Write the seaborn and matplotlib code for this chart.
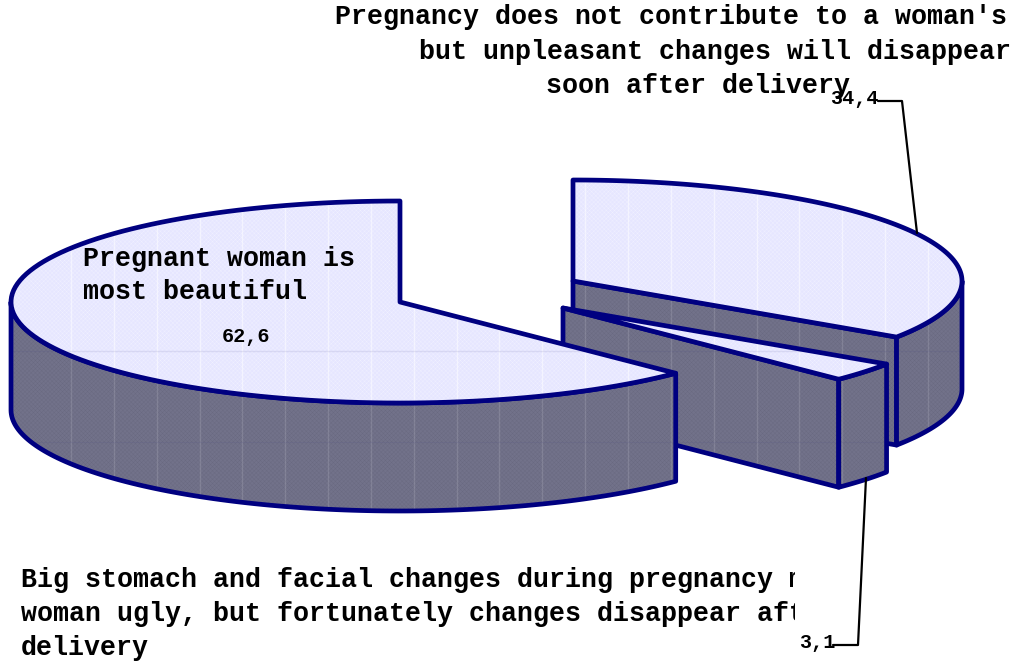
import numpy as np
import seaborn as sns
import matplotlib.pyplot as plt
from matplotlib.patches import Polygon, Rectangle

# Values, in pie order (counter-clockwise from the top)
values = [62.6, 3.1, 34.4]
value_labels = ['62,6', '3,1', '34,4']

label_big = ['Pregnant woman is', 'most beautiful']
label_top = ["Pregnancy does not contribute to a woman's beauty,",
             'but unpleasant changes will disappear',
             'soon after delivery']
label_bottom = ['Big stomach and facial changes during pregnancy make a',
                'woman ugly, but fortunately changes disappear after',
                'delivery']

# Pie layout in pixels
centers = [(400, 302), (563, 308), (573, 281)]
rx, ry, depth = 389, 101, 108
top_color = '#E6E6FF'
side_color = '#72728A'
edge_color = '#000080'
font = 'Liberation Mono'

sns.set_theme(style='white')
plt.rcParams['font.family'] = [font, 'DejaVu Sans']
plt.rcParams['hatch.linewidth'] = 0.25

fig = plt.figure(figsize=(10.16, 6.63), dpi=100)
ax = fig.add_axes([0, 0, 1, 1])
ax.set_xlim(0, 1016)
ax.set_ylim(663, 0)
ax.axis('off')

# Wedge angles from the values
shares = 360 * np.array(values) / sum(values)
starts = 90 + np.concatenate([[0], np.cumsum(shares)[:-1]])
ends = starts + shares

counter = [0]


def next_z():
    counter[0] += 1
    return counter[0]


def arc(c, a1, a2, drop=0):
    t = np.radians(np.linspace(a1, a2, 120))
    return np.column_stack([c[0] + rx * np.cos(t), c[1] - ry * np.sin(t) + drop])


def face(points, color, hatch_color, line_alpha):
    # Fill with fine texture and faint print lines, then the outline on top
    fill = Polygon(points, closed=True, facecolor=color, edgecolor=hatch_color,
                   hatch='xxxxxxxx', lw=0, zorder=next_z())
    ax.add_patch(fill)
    lines = ax.vlines(np.arange(71, 1000, 42.85), 0, 663, color='white',
                      lw=1, alpha=line_alpha, zorder=next_z())
    lines.set_clip_path(fill)
    rows = ax.hlines([351, 442], 0, 1016, color='#404080', lw=1, alpha=0.1,
                     zorder=next_z())
    rows.set_clip_path(fill)
    ax.add_patch(Polygon(points, closed=True, fill=False, edgecolor=edge_color,
                         lw=3.4, joinstyle='round', zorder=next_z()))


def side(points):
    face(points, side_color, '#68687F', 0.13)


def top(points):
    face(points, top_color, '#F2F2FF', 0.5)


def radial_wall(c, angle):
    p = arc(c, angle, angle)[0]
    return [c, p, (p[0], p[1] + depth), (c[0], c[1] + depth)]


def outer_wall(c, a1, a2):
    return np.vstack([arc(c, a1, a2), arc(c, a2, a1, depth)])


def top_face(c, a1, a2):
    return np.vstack([[c], arc(c, a1, a2)])


# Back slice first, big slice last so each one covers the one behind
c = centers[2]
side(radial_wall(c, starts[2]))
side(outer_wall(c, starts[2], 360))
top(top_face(c, starts[2], ends[2]))

c = centers[1]
side(radial_wall(c, starts[1]))
side(outer_wall(c, starts[1], ends[1]))
top(top_face(c, starts[1], ends[1]))

c = centers[0]
side(outer_wall(c, 180, ends[0]))
top(top_face(c, starts[0], ends[0]))

# Leader lines
ax.plot([878, 902, 917], [101, 101, 233], color='black', lw=1.6, zorder=200)
ax.plot([833, 858, 866], [645, 645, 478], color='black', lw=1.6, zorder=200)

# Labels
text_style = dict(family=font, weight='bold', color='black', zorder=300,
                  ha='left', va='center')
size = 19.2
for line, y in zip(label_big, [259, 292]):
    ax.text(83, y, line, fontsize=size, **text_style)

# The long labels are cut off in the original, so clip them the same way
for line, x, y in zip(label_top, [335, 419, 546], [17, 52, 86]):
    t = ax.text(x, y, line, fontsize=size, clip_on=True, **text_style)
    t.set_clip_path(Rectangle((0, 0), 1011, 663, transform=ax.transData))

for line, y in zip(label_bottom, [580, 614, 648]):
    t = ax.text(21, y, line, fontsize=size, clip_on=True, **text_style)
    t.set_clip_path(Rectangle((0, 0), 795, 663, transform=ax.transData))

for label, x, y in zip(value_labels, [222, 799, 830], [336, 643, 98]):
    ax.text(x, y, label, fontsize=14.5, **text_style)

fig.savefig('out.png', dpi=100)
